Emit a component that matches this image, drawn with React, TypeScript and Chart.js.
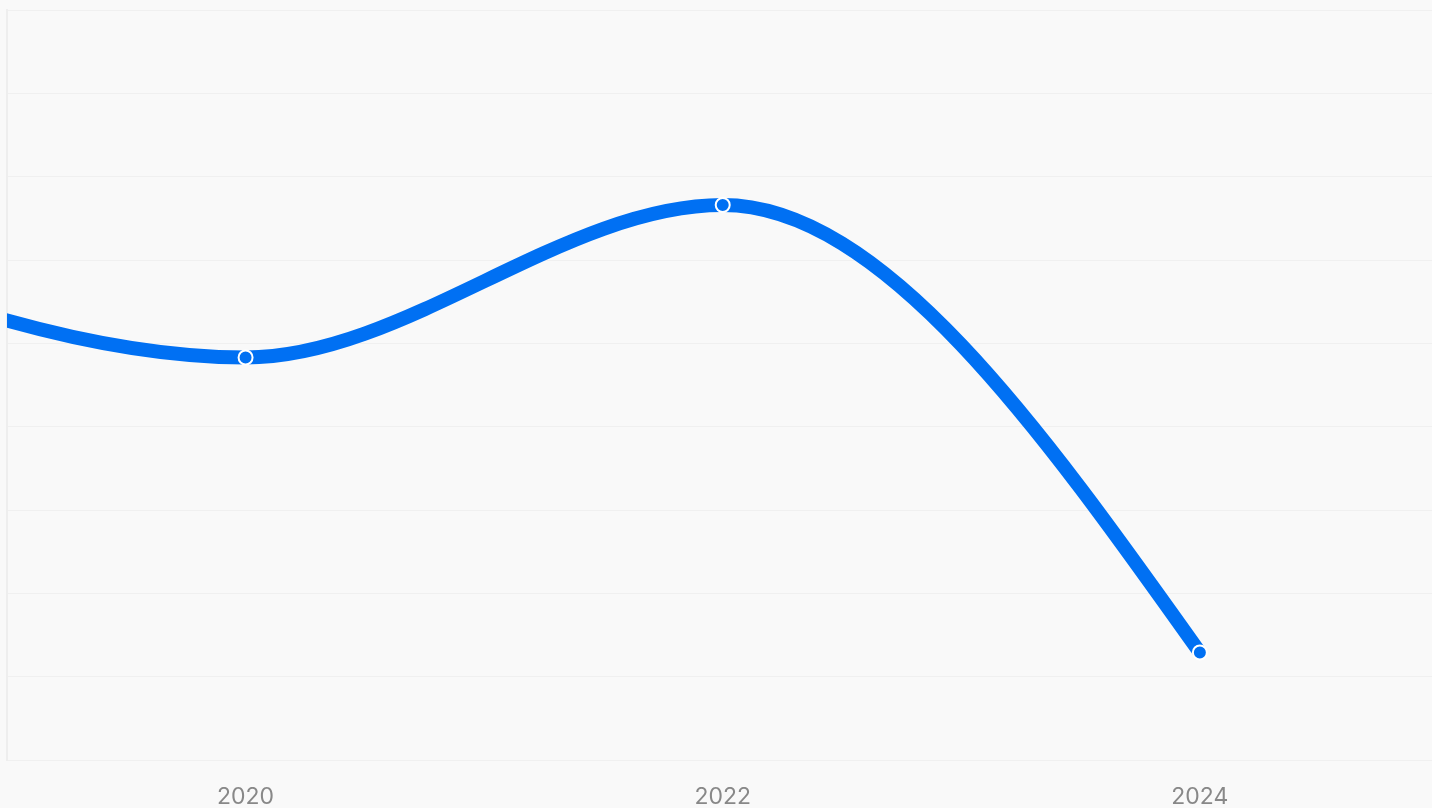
import React, { useEffect, useRef } from "react";
import { Chart, registerables } from "chart.js";

Chart.register(...registerables);

const years = [2018, 2020, 2022, 2024];
const values = [62.5, 48.3, 66.6, 12.9];
const xTicks = [2020, 2022, 2024];
const xMin = 2019;
const xMax = 2024.973;
const yMin = 0;
const yMax = 90;
const yStep = 10;

// Monotone-X control points (endpoint slopes as in d3's curveMonotoneX)
const monotoneXPlugin = {
  id: "monotoneX",
  beforeDatasetsDraw(chart: any) {
    const meta = chart.getDatasetMeta(0);
    const line = meta.dataset;
    const pts = meta.data;
    if (!line || !pts || pts.length < 2) return;
    if (line.updateControlPoints) line.updateControlPoints(chart.chartArea, "x");
    const n = pts.length;
    const sign = (v: number) => (v < 0 ? -1 : 1);
    const h: number[] = [];
    const s: number[] = [];
    for (let i = 0; i < n - 1; i++) {
      h[i] = pts[i + 1].x - pts[i].x;
      s[i] = (pts[i + 1].y - pts[i].y) / h[i];
    }
    const m: number[] = new Array(n).fill(0);
    for (let i = 1; i < n - 1; i++) {
      const p = (s[i - 1] * h[i] + s[i] * h[i - 1]) / (h[i - 1] + h[i]);
      m[i] =
        (sign(s[i - 1]) + sign(s[i])) *
          Math.min(Math.abs(s[i - 1]), Math.abs(s[i]), 0.5 * Math.abs(p)) || 0;
    }
    if (n > 2) {
      m[0] = (3 * s[0] - m[1]) / 2;
      m[n - 1] = (3 * s[n - 2] - m[n - 2]) / 2;
    } else {
      m[0] = s[0];
      m[1] = s[0];
    }
    for (let i = 0; i < n; i++) {
      const pt = pts[i];
      const hl = i > 0 ? h[i - 1] / 3 : 0;
      const hr = i < n - 1 ? h[i] / 3 : 0;
      pt.cp1x = pt.x - hl;
      pt.cp1y = pt.y - m[i] * hl;
      pt.cp2x = pt.x + hr;
      pt.cp2y = pt.y + m[i] * hr;
    }
    line._path = undefined;
  },
};

export default function App() {
  const ref = useRef<HTMLCanvasElement | null>(null);

  useEffect(() => {
    document.body.style.margin = "0";
    document.body.style.background = "#f9f9f9";
    document.body.style.overflow = "hidden";
    const canvas = ref.current;
    if (!canvas) return;
    const chart = new Chart(canvas, {
      type: "line",
      data: {
        datasets: [
          {
            data: years.map((y, i) => ({ x: y, y: values[i] })),
            borderColor: "#0070f3",
            borderWidth: 14,
            cubicInterpolationMode: "monotone",
            capBezierPoints: false,
            pointRadius: 7,
            pointHoverRadius: 7,
            pointBackgroundColor: "#0070f3",
            pointBorderColor: "#ffffff",
            pointBorderWidth: 2,
            fill: false,
          },
        ],
      },
      options: {
        animation: false,
        responsive: false,
        layout: { autoPadding: false, padding: { top: 10, left: 0, right: 0, bottom: 0 } },
        plugins: {
          legend: { display: false },
          tooltip: { enabled: false },
        },
        scales: {
          x: {
            type: "linear",
            min: xMin,
            max: xMax,
            grid: { display: false, drawTicks: false },
            border: { display: false },
            afterBuildTicks: (scale: any) => {
              scale.ticks = xTicks.map((v) => ({ value: v }));
            },
            afterFit: (scale: any) => {
              scale.height = 48;
            },
            ticks: {
              color: "#888888",
              font: { family: "Inter", size: 23 },
              padding: 23,
              maxRotation: 0,
              autoSkip: false,
              callback: (v: any) => String(v),
            },
          },
          y: {
            min: yMin,
            max: yMax,
            ticks: { display: false, stepSize: yStep },
            grid: { color: "#f0f0f0", lineWidth: 1, drawTicks: false },
            border: { display: true, color: "#eeeeee", width: 2 },
            afterFit: (scale: any) => {
              scale.width = 7;
            },
          },
        },
      },
      plugins: [monotoneXPlugin],
    });
    return () => chart.destroy();
  }, []);

  return (
    <div style={{ width: 1432, height: 808, background: "#f9f9f9" }}>
      <canvas ref={ref} width={1432} height={808} style={{ display: "block" }} />
    </div>
  );
}
